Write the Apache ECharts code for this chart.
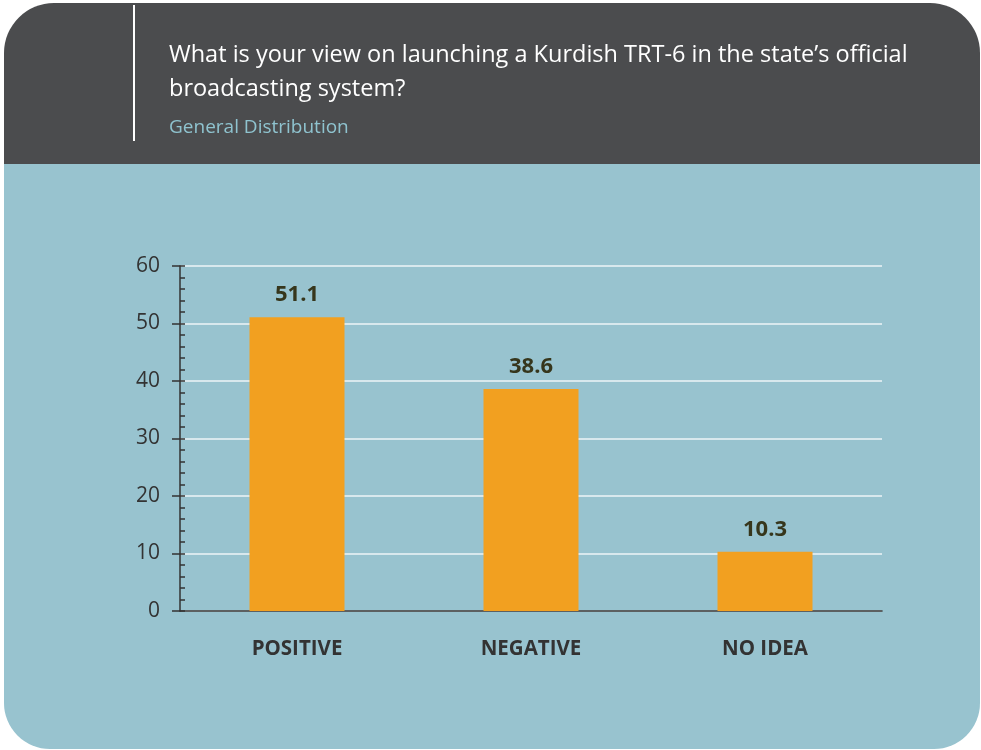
<!DOCTYPE html>
<html>
<head>
<meta charset="utf-8">
<script src="https://cdn.jsdelivr.net/npm/echarts@6/dist/echarts.min.js"></script>
<style>
  html, body { margin: 0; padding: 0; background: #ffffff; }
  #chart { width: 981px; height: 750px; }
</style>
</head>
<body>
<div id="chart"></div>
<script>
// survey answers, general distribution (%)
let categories = ['POSITIVE', 'NEGATIVE', 'NO IDEA'];
let values = [51.1, 38.6, 10.3];
let titleLines = ["What is your view on launching a Kurdish TRT-6 in the state\u2019s official", 'broadcasting system?'];
let subTitle = 'General Distribution';

let fontFamily = '"Open Sans", "Noto Sans", sans-serif';
let chart = echarts.init(document.getElementById('chart'));

let option = {
    animation: false,
    graphic: [
        {
            type: 'rect',
            shape: { x: 4, y: 3, width: 976, height: 162, r: [50, 50, 0, 0] },
            style: { fill: '#4b4c4e' },
            z: -10
        },
        {
            type: 'rect',
            shape: { x: 4, y: 164, width: 976, height: 585, r: [0, 0, 46, 46] },
            style: { fill: '#98c3cf' },
            z: -10
        },
        {
            type: 'rect',
            shape: { x: 133, y: 5, width: 2, height: 136 },
            style: { fill: '#ffffff' },
            z: -5
        }
    ],
    title: {
        text: titleLines.join('\n'),
        subtext: subTitle,
        left: 164,
        top: 33,
        itemGap: 11,
        textStyle: {
            color: '#ffffff',
            fontFamily: fontFamily,
            fontWeight: 'normal',
            fontSize: 23.5,
            lineHeight: 34
        },
        subtextStyle: {
            color: '#8fc3cf',
            fontFamily: fontFamily,
            fontSize: 19,
            lineHeight: 22
        }
    },
    grid: {
        left: 180,
        right: 99,
        top: 266,
        bottom: 139,
        containLabel: false
    },
    xAxis: {
        type: 'category',
        data: categories,
        axisLine: { lineStyle: { color: '#333333', width: 1.5 } },
        axisTick: { length: 8, lineStyle: { color: '#333333', width: 1.5 } },
        axisLabel: {
            margin: 28,
            color: '#333333',
            fontFamily: fontFamily,
            fontWeight: 'bold',
            fontSize: 20.5
        }
    },
    yAxis: [
        {
            type: 'value',
            min: 0,
            max: 60,
            interval: 10,
            axisLine: { show: true, lineStyle: { color: '#333333', width: 1.5 } },
            axisTick: { show: true, inside: true, length: 5, lineStyle: { color: '#333333', width: 1.5 } },
            minorTick: { show: true, splitNumber: 5, length: 5, lineStyle: { color: '#333333', width: 1.5 } },
            axisLabel: {
                margin: 20,
                color: '#333333',
                fontFamily: fontFamily,
                fontSize: 21
            },
            splitLine: { show: true, lineStyle: { color: '#eef5f7', width: 1.5 } }
        },
        {
            type: 'value',
            min: 0,
            max: 60,
            interval: 10,
            position: 'left',
            axisLine: { show: false },
            axisTick: { show: true, length: 8, lineStyle: { color: '#333333', width: 1.5 } },
            axisLabel: { show: false },
            splitLine: { show: false }
        }
    ],
    series: [
        {
            type: 'bar',
            data: values,
            barWidth: 95,
            itemStyle: { color: '#f2a020' },
            label: {
                show: true,
                position: 'top',
                distance: 11,
                color: '#36361c',
                fontFamily: fontFamily,
                fontWeight: 'bold',
                fontSize: 22,
                formatter: function(p) {
                    return p.value.toFixed(1);
                }
            }
        }
    ]
};
chart.setOption(option);
</script>
</body>
</html>
